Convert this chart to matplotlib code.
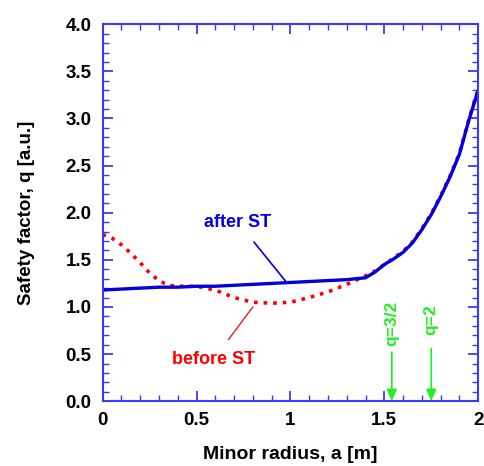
import matplotlib.pyplot as plt
import numpy as np

plt.rcParams['font.family'] = ['Liberation Sans', 'DejaVu Sans']
plt.rcParams['font.weight'] = 'bold'

# safety factor profiles
r_after = [0, 0.1, 0.2, 0.3, 0.4, 0.5, 0.6, 0.7, 0.8, 0.9, 1.0, 1.1, 1.2, 1.3, 1.4,
           1.45, 1.5, 1.55, 1.6, 1.65, 1.7, 1.75, 1.8, 1.85, 1.9, 1.95, 2.0]
q_after = [1.18, 1.19, 1.20, 1.21, 1.21, 1.22, 1.22, 1.23, 1.24, 1.25, 1.26, 1.27, 1.28, 1.29, 1.31,
           1.37, 1.45, 1.51, 1.58, 1.68, 1.82, 1.98, 2.17, 2.38, 2.62, 2.98, 3.30]

r_before = [0, 0.05, 0.1, 0.15, 0.2, 0.25, 0.3, 0.35, 0.4, 0.5, 0.6, 0.7, 0.8, 0.9, 1.0,
            1.1, 1.2, 1.3, 1.4, 1.45, 1.5, 1.55, 1.6, 1.65, 1.7, 1.75, 1.8, 1.85, 1.9, 1.95, 2.0]
q_before = [1.77, 1.73, 1.66, 1.57, 1.47, 1.36, 1.28, 1.23, 1.22, 1.22, 1.18, 1.10, 1.05, 1.04, 1.05,
            1.10, 1.16, 1.24, 1.33, 1.38, 1.45, 1.52, 1.59, 1.69, 1.83, 1.99, 2.18, 2.39, 2.63, 2.99, 3.31]

# rational surfaces
q_labels = ['q=3/2', 'q=2']
q_pos = [1.54, 1.75]
arrow_top = [0.52, 0.56]
label_bottom = [0.59, 0.70]

blue = '#0000dd'
spine = '#3a3aff'
green = '#22ee22'

fig = plt.figure(figsize=(4.84, 4.66), dpi=100)
ax = fig.add_axes([0.212, 0.139, 0.776, 0.809])

ax.plot(r_before, q_before, color='red', linestyle=':', linewidth=2.6)
ax.plot(r_after, q_after, color=blue, linewidth=2.4)

ax.set_xlim(0, 2)
ax.set_ylim(0, 4)
ax.set_xticks([0, 0.5, 1, 1.5, 2])
ax.set_xticklabels(['0', '0.5', '1', '1.5', '2'])
ax.set_yticks(np.arange(0, 4.01, 0.5))
ax.set_yticklabels(['%.1f' % v for v in np.arange(0, 4.01, 0.5)])
ax.set_xticks(np.arange(0, 2.01, 0.1), minor=True)
ax.set_yticks(np.arange(0, 4.01, 0.1), minor=True)
ax.tick_params(which='both', direction='in', top=True, right=True, color=spine,
               labelsize=13.5, pad=8)
ax.tick_params(which='major', length=7, width=1.3)
ax.tick_params(which='minor', length=4, width=1.0)
for s in ax.spines.values():
    s.set_color(spine)
    s.set_linewidth(1.5)

ax.set_xlabel('Minor radius, a [m]', fontsize=14, fontweight='bold', labelpad=12)
ax.set_ylabel('Safety factor, q [a.u.]', fontsize=13.5, fontweight='bold', labelpad=22)

ax.annotate('after ST', xy=(0.98, 1.26), xytext=(0.72, 1.9), color=blue,
            fontsize=13, fontweight='bold', ha='center', va='center',
            arrowprops=dict(arrowstyle='-', color=blue, lw=1.2, shrinkA=8, shrinkB=0))
ax.annotate('before ST', xy=(0.80, 1.0), xytext=(0.59, 0.44), color='red',
            fontsize=13, fontweight='bold', ha='center', va='center',
            arrowprops=dict(arrowstyle='-', color='red', lw=0.9, shrinkA=8, shrinkB=0))

for lab, xp, ytop, ylab in zip(q_labels, q_pos, arrow_top, label_bottom):
    ax.annotate('', xy=(xp, 0.0), xytext=(xp, ytop),
                arrowprops=dict(arrowstyle='-|>,head_length=0.7,head_width=0.3',
                                color=green, lw=1.2, shrinkA=0, shrinkB=0))
    ax.text(xp, ylab, lab, color=green, fontsize=12.5, fontweight='bold',
            rotation=90, ha='center', va='bottom')

fig.savefig('out.png', dpi=100)
